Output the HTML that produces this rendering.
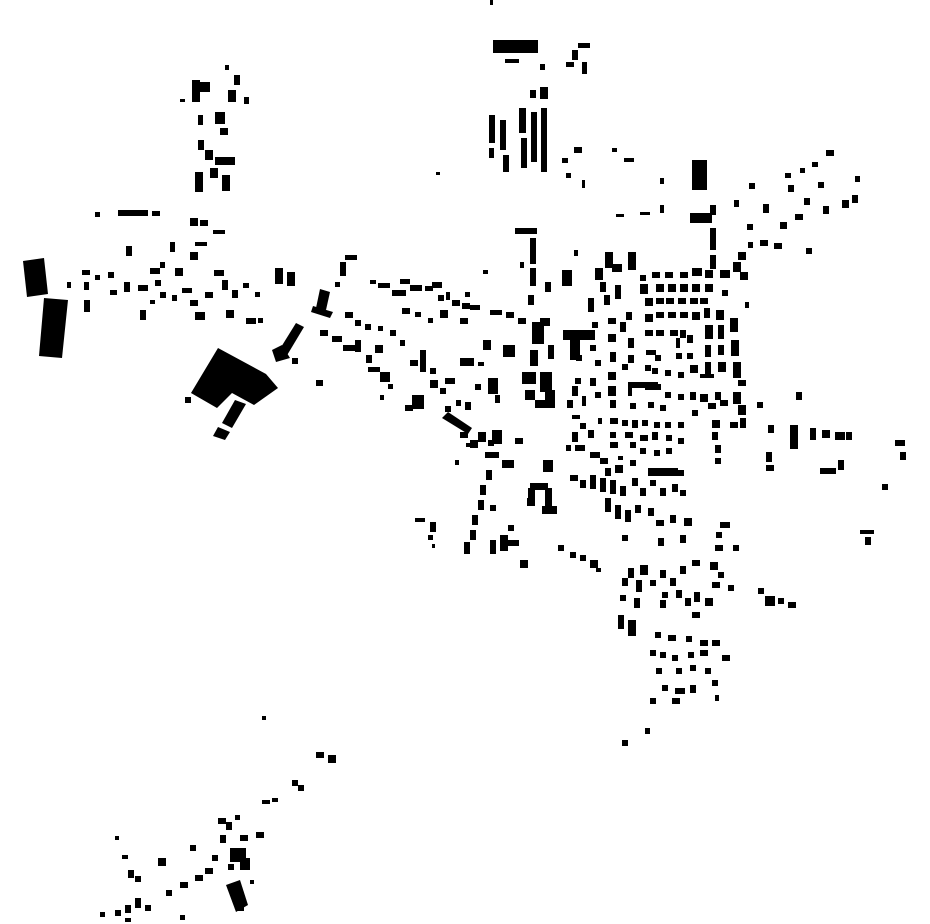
<!DOCTYPE html>
<html><head><meta charset="utf-8"><style>html,body{margin:0;padding:0;background:#fff}svg{display:block}</style></head>
<body>
<svg width="930" height="924" viewBox="0 0 930 924" xmlns="http://www.w3.org/2000/svg">
<g fill="#000">
<polygon points="23,261 44,258 48,294 27,297"/>
<polygon points="44,298 68,300 62,358 39,356"/>
<polygon points="218,348 266,374 278,388 254,405 232,393 217,408 191,393"/>
<polygon points="235,400 246,404 232,428 222,423"/>
<polygon points="218,427 230,432 225,440 213,436"/>
<polygon points="296,323 304,327 286,357 278,352"/>
<polygon points="272,350 282,345 290,358 276,362"/>
<polygon points="320,289 330,292 326,310 316,308"/>
<polygon points="313,306 333,312 330,318 311,312"/>
<rect x="185" y="397" width="6" height="6"/>
<rect x="316" y="380" width="7" height="6"/>
<rect x="292" y="358" width="6" height="6"/>
<rect x="490" y="0" width="3" height="5"/>
<rect x="493" y="40" width="45" height="13"/>
<rect x="505" y="59" width="14" height="4"/>
<rect x="540" y="64" width="5" height="6"/>
<rect x="578" y="43" width="12" height="5"/>
<rect x="572" y="50" width="6" height="10"/>
<rect x="566" y="62" width="8" height="5"/>
<rect x="582" y="62" width="5" height="12"/>
<rect x="530" y="90" width="6" height="8"/>
<rect x="540" y="87" width="8" height="12"/>
<rect x="489" y="115" width="6" height="28"/>
<rect x="489" y="148" width="5" height="10"/>
<rect x="500" y="120" width="6" height="30"/>
<rect x="503" y="155" width="6" height="17"/>
<rect x="519" y="108" width="7" height="25"/>
<rect x="521" y="138" width="6" height="30"/>
<rect x="531" y="112" width="6" height="50"/>
<rect x="541" y="108" width="6" height="64"/>
<rect x="574" y="147" width="8" height="6"/>
<rect x="562" y="158" width="6" height="5"/>
<rect x="566" y="173" width="5" height="5"/>
<rect x="612" y="148" width="5" height="4"/>
<rect x="624" y="158" width="10" height="4"/>
<rect x="582" y="180" width="3" height="8"/>
<rect x="436" y="172" width="4" height="3"/>
<rect x="660" y="178" width="4" height="6"/>
<rect x="660" y="205" width="4" height="8"/>
<rect x="692" y="160" width="15" height="30"/>
<rect x="616" y="214" width="8" height="3"/>
<rect x="640" y="212" width="10" height="3"/>
<rect x="826" y="150" width="8" height="6"/>
<rect x="812" y="162" width="6" height="5"/>
<rect x="800" y="168" width="5" height="5"/>
<rect x="785" y="173" width="6" height="5"/>
<rect x="788" y="185" width="6" height="7"/>
<rect x="818" y="182" width="6" height="6"/>
<rect x="804" y="198" width="6" height="7"/>
<rect x="823" y="206" width="6" height="8"/>
<rect x="855" y="176" width="5" height="6"/>
<rect x="842" y="200" width="7" height="8"/>
<rect x="852" y="195" width="6" height="8"/>
<rect x="749" y="183" width="6" height="6"/>
<rect x="763" y="204" width="6" height="9"/>
<rect x="734" y="200" width="5" height="7"/>
<rect x="795" y="214" width="8" height="6"/>
<rect x="780" y="222" width="7" height="7"/>
<rect x="690" y="213" width="22" height="10"/>
<rect x="710" y="205" width="6" height="10"/>
<rect x="710" y="228" width="6" height="22"/>
<rect x="710" y="255" width="6" height="14"/>
<rect x="747" y="224" width="6" height="6"/>
<rect x="760" y="240" width="8" height="6"/>
<rect x="774" y="243" width="8" height="6"/>
<rect x="748" y="242" width="5" height="6"/>
<rect x="806" y="248" width="6" height="6"/>
<rect x="738" y="252" width="8" height="8"/>
<rect x="192" y="80" width="8" height="22"/>
<rect x="200" y="82" width="10" height="10"/>
<rect x="225" y="65" width="4" height="5"/>
<rect x="234" y="75" width="6" height="10"/>
<rect x="228" y="90" width="8" height="12"/>
<rect x="244" y="97" width="5" height="7"/>
<rect x="180" y="99" width="5" height="3"/>
<rect x="198" y="115" width="5" height="10"/>
<rect x="215" y="112" width="10" height="12"/>
<rect x="220" y="128" width="8" height="7"/>
<rect x="198" y="140" width="6" height="10"/>
<rect x="205" y="150" width="8" height="10"/>
<rect x="215" y="157" width="20" height="8"/>
<rect x="195" y="172" width="8" height="20"/>
<rect x="210" y="168" width="8" height="10"/>
<rect x="222" y="175" width="8" height="16"/>
<rect x="118" y="210" width="30" height="6"/>
<rect x="152" y="211" width="8" height="5"/>
<rect x="95" y="212" width="5" height="5"/>
<rect x="190" y="218" width="8" height="8"/>
<rect x="200" y="220" width="8" height="6"/>
<rect x="213" y="230" width="12" height="4"/>
<rect x="126" y="246" width="6" height="10"/>
<rect x="170" y="242" width="5" height="10"/>
<rect x="160" y="262" width="5" height="6"/>
<rect x="190" y="252" width="8" height="8"/>
<rect x="195" y="242" width="12" height="4"/>
<rect x="67" y="282" width="4" height="6"/>
<rect x="82" y="270" width="8" height="5"/>
<rect x="84" y="282" width="5" height="8"/>
<rect x="84" y="300" width="6" height="12"/>
<rect x="95" y="275" width="5" height="5"/>
<rect x="108" y="272" width="6" height="6"/>
<rect x="110" y="290" width="7" height="5"/>
<rect x="124" y="282" width="6" height="10"/>
<rect x="138" y="285" width="10" height="6"/>
<rect x="140" y="310" width="6" height="10"/>
<rect x="150" y="268" width="10" height="6"/>
<rect x="155" y="280" width="6" height="6"/>
<rect x="160" y="292" width="6" height="6"/>
<rect x="150" y="300" width="5" height="4"/>
<rect x="175" y="268" width="8" height="8"/>
<rect x="182" y="288" width="10" height="5"/>
<rect x="172" y="295" width="5" height="6"/>
<rect x="190" y="300" width="8" height="6"/>
<rect x="195" y="312" width="10" height="8"/>
<rect x="205" y="292" width="8" height="6"/>
<rect x="214" y="270" width="10" height="6"/>
<rect x="222" y="280" width="6" height="10"/>
<rect x="232" y="290" width="6" height="8"/>
<rect x="226" y="310" width="8" height="8"/>
<rect x="243" y="283" width="6" height="5"/>
<rect x="255" y="292" width="5" height="5"/>
<rect x="246" y="318" width="10" height="6"/>
<rect x="258" y="318" width="5" height="5"/>
<rect x="275" y="268" width="8" height="16"/>
<rect x="287" y="272" width="8" height="14"/>
<rect x="345" y="255" width="12" height="5"/>
<rect x="340" y="262" width="6" height="14"/>
<rect x="335" y="282" width="5" height="5"/>
<rect x="370" y="280" width="6" height="4"/>
<rect x="378" y="283" width="12" height="5"/>
<rect x="400" y="279" width="10" height="5"/>
<rect x="392" y="290" width="14" height="6"/>
<rect x="410" y="285" width="12" height="6"/>
<rect x="425" y="286" width="8" height="5"/>
<rect x="432" y="282" width="10" height="6"/>
<rect x="438" y="295" width="6" height="6"/>
<rect x="446" y="292" width="4" height="8"/>
<rect x="452" y="300" width="8" height="6"/>
<rect x="462" y="303" width="8" height="6"/>
<rect x="470" y="305" width="10" height="5"/>
<rect x="490" y="310" width="12" height="5"/>
<rect x="506" y="312" width="8" height="6"/>
<rect x="518" y="318" width="8" height="6"/>
<rect x="440" y="310" width="8" height="8"/>
<rect x="460" y="318" width="8" height="6"/>
<rect x="402" y="308" width="8" height="6"/>
<rect x="415" y="312" width="6" height="5"/>
<rect x="428" y="318" width="5" height="5"/>
<rect x="345" y="312" width="8" height="6"/>
<rect x="355" y="320" width="6" height="6"/>
<rect x="365" y="324" width="6" height="6"/>
<rect x="378" y="326" width="5" height="5"/>
<rect x="390" y="330" width="6" height="6"/>
<rect x="400" y="340" width="5" height="6"/>
<rect x="320" y="330" width="8" height="6"/>
<rect x="332" y="336" width="10" height="6"/>
<rect x="343" y="345" width="12" height="6"/>
<rect x="355" y="340" width="6" height="12"/>
<rect x="366" y="355" width="6" height="8"/>
<rect x="375" y="345" width="8" height="8"/>
<rect x="368" y="367" width="12" height="5"/>
<rect x="380" y="372" width="10" height="10"/>
<rect x="388" y="384" width="5" height="5"/>
<rect x="380" y="395" width="4" height="5"/>
<rect x="410" y="360" width="8" height="6"/>
<rect x="420" y="350" width="6" height="22"/>
<rect x="430" y="368" width="6" height="6"/>
<rect x="412" y="395" width="12" height="14"/>
<rect x="405" y="405" width="8" height="6"/>
<rect x="430" y="380" width="8" height="8"/>
<rect x="440" y="388" width="6" height="6"/>
<rect x="445" y="378" width="10" height="6"/>
<rect x="456" y="400" width="5" height="6"/>
<rect x="465" y="402" width="6" height="8"/>
<rect x="445" y="406" width="6" height="6"/>
<rect x="460" y="358" width="14" height="8"/>
<rect x="478" y="362" width="6" height="4"/>
<rect x="483" y="340" width="8" height="10"/>
<rect x="488" y="378" width="10" height="16"/>
<rect x="475" y="384" width="6" height="6"/>
<rect x="495" y="395" width="5" height="8"/>
<rect x="503" y="345" width="12" height="12"/>
<polygon points="442,418 448,412 472,428 468,434"/>
<rect x="460" y="432" width="8" height="6"/>
<rect x="470" y="440" width="8" height="8"/>
<rect x="478" y="432" width="8" height="10"/>
<rect x="488" y="440" width="6" height="6"/>
<rect x="492" y="430" width="10" height="14"/>
<rect x="485" y="452" width="14" height="6"/>
<rect x="502" y="460" width="12" height="8"/>
<rect x="515" y="438" width="8" height="6"/>
<rect x="455" y="460" width="4" height="5"/>
<rect x="466" y="443" width="4" height="4"/>
<rect x="515" y="228" width="22" height="6"/>
<rect x="530" y="238" width="6" height="26"/>
<rect x="530" y="268" width="6" height="18"/>
<rect x="545" y="282" width="6" height="10"/>
<rect x="562" y="270" width="10" height="16"/>
<rect x="528" y="295" width="6" height="10"/>
<rect x="532" y="322" width="12" height="22"/>
<rect x="540" y="318" width="10" height="8"/>
<rect x="530" y="350" width="8" height="16"/>
<rect x="522" y="372" width="14" height="12"/>
<rect x="540" y="372" width="12" height="20"/>
<rect x="525" y="390" width="10" height="10"/>
<rect x="535" y="400" width="20" height="8"/>
<rect x="545" y="390" width="10" height="14"/>
<rect x="548" y="345" width="6" height="14"/>
<rect x="563" y="330" width="22" height="10"/>
<rect x="570" y="340" width="10" height="20"/>
<rect x="574" y="250" width="4" height="6"/>
<rect x="520" y="262" width="4" height="6"/>
<rect x="483" y="270" width="5" height="4"/>
<rect x="465" y="292" width="5" height="5"/>
<rect x="605" y="252" width="8" height="16"/>
<rect x="595" y="268" width="8" height="12"/>
<rect x="612" y="264" width="10" height="8"/>
<rect x="628" y="252" width="8" height="18"/>
<rect x="600" y="282" width="6" height="10"/>
<rect x="588" y="298" width="6" height="14"/>
<rect x="604" y="295" width="6" height="10"/>
<rect x="615" y="285" width="6" height="14"/>
<rect x="640" y="275" width="6" height="6"/>
<rect x="652" y="272" width="8" height="6"/>
<rect x="665" y="272" width="8" height="6"/>
<rect x="680" y="272" width="8" height="6"/>
<rect x="692" y="268" width="10" height="8"/>
<rect x="705" y="270" width="8" height="8"/>
<rect x="720" y="270" width="10" height="8"/>
<rect x="733" y="262" width="8" height="10"/>
<rect x="740" y="272" width="8" height="8"/>
<rect x="640" y="284" width="8" height="10"/>
<rect x="656" y="284" width="8" height="8"/>
<rect x="668" y="284" width="8" height="8"/>
<rect x="680" y="284" width="8" height="8"/>
<rect x="692" y="284" width="8" height="8"/>
<rect x="705" y="284" width="8" height="8"/>
<rect x="722" y="290" width="6" height="6"/>
<rect x="645" y="298" width="8" height="8"/>
<rect x="656" y="298" width="8" height="6"/>
<rect x="666" y="298" width="8" height="6"/>
<rect x="678" y="298" width="8" height="6"/>
<rect x="690" y="298" width="8" height="6"/>
<rect x="700" y="298" width="8" height="6"/>
<rect x="645" y="314" width="8" height="8"/>
<rect x="656" y="312" width="8" height="6"/>
<rect x="668" y="312" width="8" height="6"/>
<rect x="680" y="312" width="8" height="6"/>
<rect x="692" y="312" width="8" height="8"/>
<rect x="704" y="308" width="6" height="10"/>
<rect x="716" y="310" width="8" height="10"/>
<rect x="705" y="325" width="8" height="14"/>
<rect x="718" y="325" width="6" height="14"/>
<rect x="705" y="345" width="6" height="12"/>
<rect x="718" y="345" width="6" height="10"/>
<rect x="705" y="362" width="6" height="12"/>
<rect x="718" y="362" width="8" height="10"/>
<rect x="730" y="318" width="8" height="14"/>
<rect x="731" y="340" width="8" height="16"/>
<rect x="733" y="362" width="8" height="16"/>
<rect x="738" y="380" width="8" height="6"/>
<rect x="733" y="392" width="8" height="12"/>
<rect x="738" y="405" width="8" height="10"/>
<rect x="740" y="418" width="6" height="10"/>
<rect x="745" y="302" width="4" height="6"/>
<rect x="757" y="402" width="6" height="6"/>
<rect x="645" y="330" width="8" height="6"/>
<rect x="656" y="330" width="8" height="6"/>
<rect x="670" y="330" width="8" height="6"/>
<rect x="680" y="330" width="6" height="8"/>
<rect x="687" y="335" width="6" height="8"/>
<rect x="646" y="350" width="10" height="5"/>
<rect x="655" y="355" width="6" height="6"/>
<rect x="676" y="353" width="6" height="6"/>
<rect x="687" y="353" width="6" height="6"/>
<rect x="676" y="338" width="4" height="10"/>
<rect x="690" y="365" width="8" height="8"/>
<rect x="678" y="372" width="6" height="6"/>
<rect x="665" y="370" width="6" height="6"/>
<rect x="652" y="368" width="6" height="6"/>
<rect x="645" y="365" width="6" height="6"/>
<rect x="700" y="374" width="14" height="4"/>
<rect x="608" y="318" width="8" height="6"/>
<rect x="608" y="334" width="8" height="8"/>
<rect x="610" y="352" width="6" height="10"/>
<rect x="608" y="372" width="8" height="8"/>
<rect x="608" y="386" width="8" height="10"/>
<rect x="610" y="400" width="6" height="8"/>
<rect x="620" y="322" width="6" height="10"/>
<rect x="626" y="312" width="6" height="8"/>
<rect x="628" y="338" width="6" height="10"/>
<rect x="628" y="355" width="6" height="8"/>
<rect x="622" y="364" width="6" height="6"/>
<rect x="628" y="388" width="4" height="8"/>
<rect x="628" y="382" width="30" height="6"/>
<rect x="645" y="384" width="16" height="6"/>
<rect x="665" y="392" width="6" height="6"/>
<rect x="678" y="394" width="6" height="6"/>
<rect x="690" y="392" width="6" height="8"/>
<rect x="700" y="394" width="8" height="8"/>
<rect x="715" y="392" width="6" height="8"/>
<rect x="720" y="400" width="8" height="6"/>
<rect x="630" y="403" width="6" height="6"/>
<rect x="648" y="402" width="6" height="6"/>
<rect x="660" y="405" width="6" height="6"/>
<rect x="692" y="410" width="6" height="6"/>
<rect x="708" y="403" width="8" height="6"/>
<rect x="592" y="322" width="6" height="6"/>
<rect x="585" y="330" width="10" height="10"/>
<rect x="576" y="355" width="6" height="6"/>
<rect x="590" y="345" width="6" height="6"/>
<rect x="595" y="360" width="6" height="6"/>
<rect x="575" y="378" width="6" height="6"/>
<rect x="590" y="378" width="6" height="8"/>
<rect x="595" y="392" width="6" height="6"/>
<rect x="572" y="386" width="6" height="10"/>
<rect x="567" y="400" width="6" height="8"/>
<rect x="582" y="396" width="4" height="10"/>
<rect x="572" y="415" width="8" height="4"/>
<rect x="580" y="423" width="6" height="6"/>
<rect x="572" y="432" width="6" height="10"/>
<rect x="588" y="430" width="6" height="8"/>
<rect x="598" y="418" width="4" height="6"/>
<rect x="566" y="445" width="5" height="6"/>
<rect x="610" y="418" width="8" height="6"/>
<rect x="622" y="420" width="6" height="6"/>
<rect x="632" y="420" width="6" height="8"/>
<rect x="642" y="420" width="6" height="6"/>
<rect x="654" y="422" width="6" height="6"/>
<rect x="665" y="422" width="6" height="6"/>
<rect x="678" y="422" width="6" height="6"/>
<rect x="610" y="432" width="6" height="6"/>
<rect x="625" y="432" width="8" height="6"/>
<rect x="640" y="435" width="8" height="6"/>
<rect x="652" y="432" width="6" height="8"/>
<rect x="666" y="435" width="6" height="6"/>
<rect x="678" y="438" width="6" height="6"/>
<rect x="610" y="442" width="8" height="6"/>
<rect x="630" y="442" width="6" height="6"/>
<rect x="640" y="448" width="6" height="6"/>
<rect x="654" y="450" width="6" height="6"/>
<rect x="666" y="448" width="6" height="6"/>
<rect x="618" y="456" width="5" height="4"/>
<rect x="712" y="420" width="8" height="8"/>
<rect x="712" y="432" width="6" height="8"/>
<rect x="715" y="445" width="6" height="8"/>
<rect x="715" y="458" width="6" height="6"/>
<rect x="730" y="422" width="8" height="6"/>
<rect x="543" y="460" width="10" height="12"/>
<rect x="530" y="483" width="18" height="7"/>
<rect x="528" y="488" width="7" height="18"/>
<rect x="545" y="488" width="7" height="22"/>
<rect x="542" y="506" width="15" height="8"/>
<rect x="527" y="498" width="6" height="8"/>
<rect x="575" y="445" width="10" height="6"/>
<rect x="590" y="452" width="10" height="6"/>
<rect x="600" y="458" width="8" height="6"/>
<rect x="605" y="468" width="6" height="8"/>
<rect x="615" y="465" width="8" height="8"/>
<rect x="630" y="460" width="6" height="6"/>
<rect x="648" y="468" width="30" height="8"/>
<rect x="678" y="470" width="6" height="6"/>
<rect x="570" y="475" width="8" height="6"/>
<rect x="580" y="480" width="6" height="8"/>
<rect x="590" y="475" width="6" height="14"/>
<rect x="600" y="478" width="6" height="14"/>
<rect x="610" y="480" width="6" height="14"/>
<rect x="620" y="486" width="6" height="10"/>
<rect x="632" y="478" width="6" height="8"/>
<rect x="640" y="488" width="6" height="8"/>
<rect x="650" y="480" width="6" height="6"/>
<rect x="660" y="488" width="6" height="8"/>
<rect x="672" y="484" width="6" height="8"/>
<rect x="680" y="490" width="6" height="6"/>
<rect x="605" y="498" width="6" height="14"/>
<rect x="615" y="505" width="6" height="14"/>
<rect x="625" y="510" width="6" height="12"/>
<rect x="635" y="505" width="6" height="8"/>
<rect x="648" y="508" width="6" height="8"/>
<rect x="656" y="520" width="8" height="6"/>
<rect x="670" y="515" width="6" height="8"/>
<rect x="684" y="518" width="8" height="8"/>
<rect x="622" y="535" width="6" height="6"/>
<rect x="658" y="538" width="6" height="8"/>
<rect x="680" y="535" width="6" height="8"/>
<rect x="720" y="522" width="10" height="6"/>
<rect x="716" y="532" width="6" height="6"/>
<rect x="715" y="545" width="8" height="6"/>
<rect x="733" y="545" width="6" height="6"/>
<rect x="486" y="470" width="6" height="10"/>
<rect x="480" y="485" width="6" height="10"/>
<rect x="478" y="500" width="6" height="10"/>
<rect x="472" y="515" width="6" height="10"/>
<rect x="470" y="530" width="6" height="10"/>
<rect x="464" y="542" width="6" height="12"/>
<rect x="490" y="505" width="6" height="6"/>
<rect x="508" y="525" width="6" height="6"/>
<rect x="500" y="535" width="8" height="16"/>
<rect x="490" y="540" width="6" height="14"/>
<rect x="505" y="540" width="14" height="6"/>
<rect x="520" y="560" width="8" height="8"/>
<rect x="415" y="518" width="10" height="4"/>
<rect x="430" y="522" width="6" height="10"/>
<rect x="428" y="535" width="5" height="5"/>
<rect x="432" y="544" width="3" height="4"/>
<rect x="558" y="545" width="6" height="6"/>
<rect x="570" y="552" width="6" height="6"/>
<rect x="580" y="555" width="6" height="6"/>
<rect x="590" y="560" width="8" height="8"/>
<rect x="596" y="568" width="5" height="4"/>
<rect x="640" y="565" width="8" height="10"/>
<rect x="628" y="568" width="6" height="10"/>
<rect x="622" y="578" width="6" height="8"/>
<rect x="636" y="580" width="6" height="12"/>
<rect x="620" y="595" width="6" height="6"/>
<rect x="634" y="598" width="6" height="10"/>
<rect x="618" y="615" width="6" height="14"/>
<rect x="628" y="620" width="8" height="16"/>
<rect x="650" y="580" width="6" height="6"/>
<rect x="660" y="570" width="6" height="8"/>
<rect x="670" y="578" width="6" height="8"/>
<rect x="662" y="592" width="6" height="6"/>
<rect x="676" y="590" width="6" height="8"/>
<rect x="660" y="600" width="6" height="8"/>
<rect x="685" y="598" width="6" height="8"/>
<rect x="694" y="592" width="6" height="10"/>
<rect x="705" y="598" width="8" height="8"/>
<rect x="692" y="612" width="8" height="6"/>
<rect x="680" y="566" width="6" height="8"/>
<rect x="692" y="560" width="8" height="6"/>
<rect x="710" y="562" width="8" height="8"/>
<rect x="718" y="572" width="6" height="6"/>
<rect x="712" y="582" width="8" height="6"/>
<rect x="728" y="585" width="6" height="6"/>
<rect x="758" y="588" width="6" height="6"/>
<rect x="765" y="596" width="10" height="10"/>
<rect x="778" y="598" width="6" height="6"/>
<rect x="788" y="602" width="8" height="6"/>
<rect x="655" y="632" width="6" height="6"/>
<rect x="668" y="635" width="8" height="6"/>
<rect x="686" y="636" width="6" height="6"/>
<rect x="700" y="640" width="8" height="6"/>
<rect x="712" y="640" width="8" height="6"/>
<rect x="650" y="650" width="6" height="6"/>
<rect x="660" y="652" width="6" height="6"/>
<rect x="672" y="655" width="6" height="6"/>
<rect x="688" y="652" width="6" height="6"/>
<rect x="700" y="650" width="8" height="6"/>
<rect x="722" y="655" width="8" height="6"/>
<rect x="656" y="668" width="6" height="6"/>
<rect x="676" y="668" width="6" height="6"/>
<rect x="690" y="665" width="6" height="6"/>
<rect x="705" y="668" width="6" height="6"/>
<rect x="712" y="680" width="6" height="6"/>
<rect x="662" y="685" width="6" height="6"/>
<rect x="675" y="688" width="10" height="6"/>
<rect x="690" y="685" width="6" height="8"/>
<rect x="650" y="698" width="6" height="6"/>
<rect x="672" y="698" width="8" height="6"/>
<rect x="715" y="695" width="4" height="6"/>
<rect x="645" y="728" width="5" height="6"/>
<rect x="622" y="740" width="6" height="6"/>
<rect x="768" y="425" width="6" height="8"/>
<rect x="790" y="425" width="8" height="24"/>
<rect x="796" y="392" width="6" height="8"/>
<rect x="810" y="428" width="6" height="12"/>
<rect x="822" y="430" width="8" height="8"/>
<rect x="835" y="432" width="10" height="8"/>
<rect x="846" y="432" width="6" height="8"/>
<rect x="766" y="452" width="6" height="10"/>
<rect x="766" y="465" width="8" height="6"/>
<rect x="820" y="468" width="16" height="6"/>
<rect x="838" y="460" width="6" height="10"/>
<rect x="895" y="440" width="10" height="6"/>
<rect x="900" y="452" width="6" height="8"/>
<rect x="882" y="484" width="6" height="6"/>
<rect x="860" y="530" width="14" height="4"/>
<rect x="865" y="537" width="6" height="8"/>
<rect x="262" y="716" width="4" height="4"/>
<rect x="316" y="752" width="8" height="6"/>
<rect x="328" y="755" width="8" height="8"/>
<rect x="292" y="780" width="6" height="6"/>
<rect x="298" y="785" width="6" height="6"/>
<rect x="262" y="800" width="8" height="4"/>
<rect x="272" y="798" width="6" height="4"/>
<rect x="218" y="818" width="8" height="6"/>
<rect x="226" y="822" width="6" height="8"/>
<rect x="235" y="815" width="5" height="5"/>
<rect x="220" y="835" width="6" height="8"/>
<rect x="240" y="835" width="8" height="6"/>
<rect x="256" y="832" width="8" height="6"/>
<rect x="230" y="848" width="16" height="14"/>
<rect x="240" y="858" width="10" height="12"/>
<rect x="228" y="864" width="6" height="6"/>
<rect x="212" y="855" width="6" height="6"/>
<rect x="190" y="845" width="6" height="6"/>
<rect x="205" y="868" width="8" height="6"/>
<rect x="195" y="875" width="8" height="6"/>
<rect x="180" y="882" width="8" height="6"/>
<rect x="166" y="890" width="6" height="6"/>
<polygon points="226,885 240,880 248,905 236,912"/>
<rect x="236" y="895" width="8" height="16"/>
<rect x="250" y="880" width="4" height="4"/>
<rect x="158" y="858" width="8" height="8"/>
<rect x="128" y="870" width="6" height="8"/>
<rect x="135" y="876" width="6" height="6"/>
<rect x="122" y="855" width="6" height="4"/>
<rect x="115" y="836" width="4" height="4"/>
<rect x="135" y="898" width="6" height="10"/>
<rect x="125" y="905" width="6" height="8"/>
<rect x="115" y="910" width="6" height="6"/>
<rect x="100" y="912" width="5" height="5"/>
<rect x="145" y="905" width="6" height="6"/>
<rect x="180" y="915" width="5" height="5"/>
<rect x="125" y="918" width="6" height="4"/>
</g>
</svg>
</body></html>
